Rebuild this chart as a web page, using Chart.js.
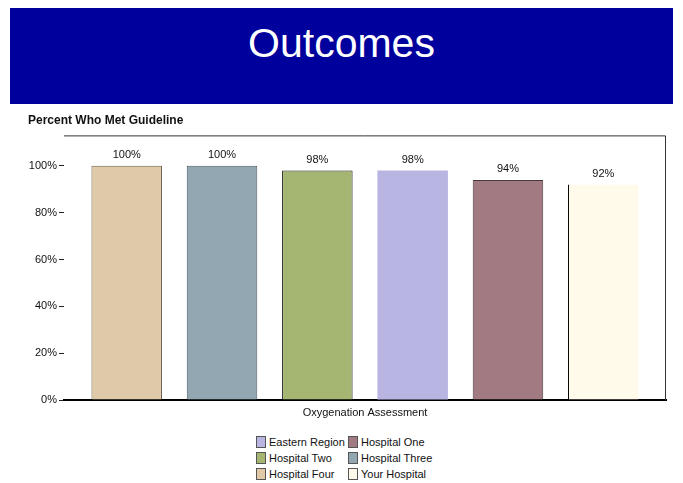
<!DOCTYPE html>
<html>
<head>
<meta charset="utf-8">
<script src="https://cdn.jsdelivr.net/npm/chart.js@4"></script>
<style>
  body { margin: 0; background: #fff; font-family: "Liberation Sans", Arial, sans-serif; }
  #page { position: relative; width: 683px; height: 483px; overflow: hidden; }
  #header { position: absolute; left: 10px; top: 8px; width: 663px; height: 96px; background: #00009c;
    color: #fff; font-size: 41px; text-align: center; line-height: 70px; }
  #wrap { position: absolute; left: 0; top: 108px; width: 683px; height: 322px; }
  #legend { position: absolute; left: 256px; top: 435px; display: grid;
    grid-template-columns: 92px 100px; row-gap: 3px; font-size: 11px; color: #111; }
  #legend div { display: flex; align-items: center; height: 13px; }
  #legend span.box { display: inline-block; width: 10px; height: 12px; margin-right: 3px; border: 1px solid #555; box-sizing: border-box; }
</style>
</head>
<body>
<div id="page">
  <div id="header">Outcomes</div>
  <div id="wrap"><canvas id="chart"></canvas></div>
  <div id="legend"></div>
</div>
<script>
// data
var categories = ['Oxygenation Assessment'];
var series = ['Hospital Four', 'Hospital Three', 'Hospital Two', 'Eastern Region', 'Hospital One', 'Your Hospital'];
var values = [100, 100, 98, 98, 94, 92];
var colors = ['#e0c9a9', '#93a7b2', '#a4b672', '#b8b5e3', '#a27b82', '#fffaea'];
var borders = ['#6e6250', '#4c5a62', '#1a1a1a', '#b8b5e3', '#4a3a3e', '#000000'];
var legendOrder = ['Eastern Region', 'Hospital One', 'Hospital Two', 'Hospital Three', 'Hospital Four', 'Your Hospital'];
var yTicks = [0, 20, 40, 60, 80, 100];

var datasets = series.map(function (name, i) {
  return {
    label: name,
    data: [values[i]],
    backgroundColor: colors[i],
    borderColor: borders[i],
    borderWidth: name === 'Your Hospital' ? { left: 1, top: 0, right: 0, bottom: 0 } :
      (name === 'Eastern Region' ? 0 : { left: 1, top: 1, right: 1, bottom: 0 }),
    borderSkipped: false
  };
});

// labels above the bars
var valueLabels = {
  id: 'valueLabels',
  afterDatasetsDraw: function (chart) {
    var ctx = chart.ctx;
    ctx.save();
    ctx.font = '11px "Liberation Sans", Arial, sans-serif';
    ctx.fillStyle = '#111';
    ctx.textAlign = 'center';
    ctx.textBaseline = 'bottom';
    chart.data.datasets.forEach(function (ds, i) {
      var bar = chart.getDatasetMeta(i).data[0];
      ctx.fillText(ds.data[0] + '%', bar.x, bar.y - 5);
    });
    ctx.restore();
  }
};

// top + right frame of the plot
var frame = {
  id: 'frame',
  beforeDatasetsDraw: function (chart) {
    var a = chart.chartArea, ctx = chart.ctx;
    ctx.save();
    ctx.strokeStyle = '#333';
    ctx.lineWidth = 1;
    ctx.beginPath();
    ctx.moveTo(a.left, a.top + 0.5);
    ctx.lineTo(a.right - 0.5, a.top + 0.5);
    ctx.lineTo(a.right - 0.5, a.bottom);
    ctx.stroke();
    ctx.restore();
  }
};

new Chart(document.getElementById('chart'), {
  type: 'bar',
  data: { labels: categories, datasets: datasets },
  plugins: [valueLabels, frame],
  options: {
    responsive: true,
    maintainAspectRatio: false,
    animation: false,
    layout: { padding: { left: 28, right: 17, top: 2, bottom: 0 } },
    datasets: { bar: { categoryPercentage: 0.95, barPercentage: 0.74 } },
    plugins: {
      legend: { display: false },
      tooltip: { enabled: false },
      title: {
        display: true,
        text: 'Percent Who Met Guideline',
        align: 'start',
        color: '#111',
        font: { family: '"Liberation Sans", Arial, sans-serif', size: 12, weight: 'bold' },
        padding: { top: 3, bottom: 8 }
      }
    },
    scales: {
      x: {
        grid: { display: false, drawTicks: false },
        border: { display: true, color: '#000', width: 2 },
        ticks: { color: '#111', padding: 6, font: { family: '"Liberation Sans", Arial, sans-serif', size: 11 } },
        afterFit: function (s) { s.height = 30; }
      },
      y: {
        min: 0,
        max: 113,
        afterBuildTicks: function (s) { s.ticks = yTicks.map(function (v) { return { value: v }; }); },
        grid: { drawOnChartArea: false, drawTicks: true, tickLength: 5, color: '#222' },
        border: { display: false },
        ticks: {
          color: '#111',
          padding: 2,
          font: { family: '"Liberation Sans", Arial, sans-serif', size: 11 },
          callback: function (v) { return v + '%'; }
        },
        afterFit: function (s) { s.width = 36; }
      }
    }
  }
});

// legend, two columns
var legend = document.getElementById('legend');
legendOrder.forEach(function (name) {
  var i = series.indexOf(name);
  var item = document.createElement('div');
  var box = document.createElement('span');
  box.className = 'box';
  box.style.background = colors[i];
  item.appendChild(box);
  item.appendChild(document.createTextNode(name));
  legend.appendChild(item);
});
</script>
</body>
</html>
